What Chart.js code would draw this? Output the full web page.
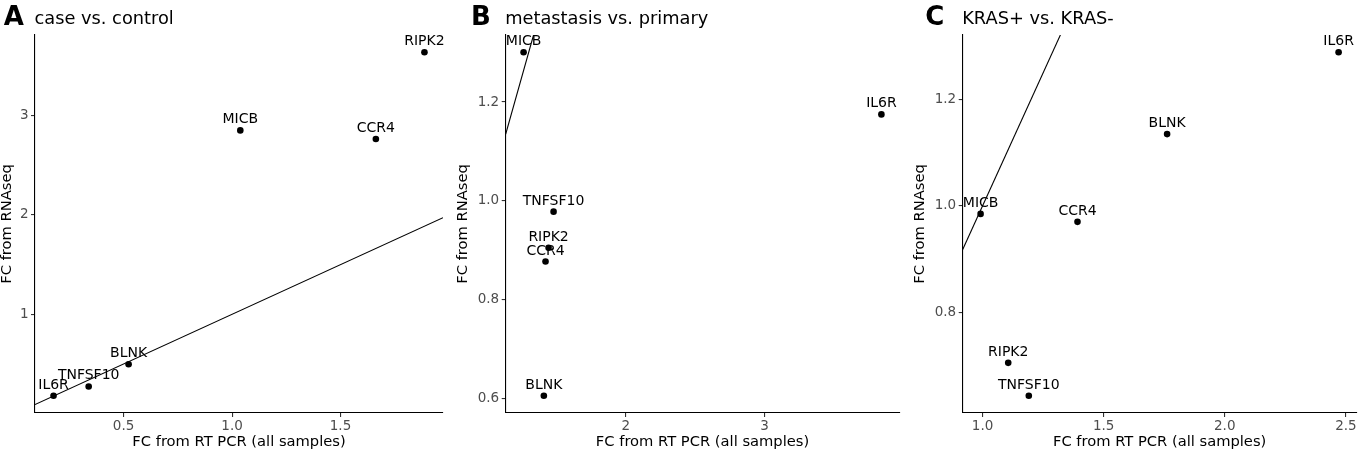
<!DOCTYPE html>
<html>
<head>
<meta charset="utf-8">
<script src="https://cdn.jsdelivr.net/npm/chart.js@4.4.1/dist/chart.umd.min.js"></script>
<style>
html,body{margin:0;padding:0;background:#fff;width:1358px;height:452px;overflow:hidden;}
canvas.p{position:absolute;top:0;}
</style>
</head>
<body>
<canvas id="cA" class="p" style="left:0px"></canvas>
<canvas id="cB" class="p" style="left:453px"></canvas>
<canvas id="cC" class="p" style="left:905px"></canvas>
<script>
// ---------- data ----------
const tags = ['A', 'B', 'C'];
const titles = ['case vs. control', 'metastasis vs. primary', 'KRAS+ vs. KRAS-'];
const xAxisTitle = 'FC from RT PCR (all samples)';
const yAxisTitle = 'FC from RNAseq';

// Panel A: case vs. control
const genesA = ['RIPK2', 'MICB', 'CCR4', 'BLNK', 'TNFSF10', 'IL6R'];
const pcrA   = [1.887, 1.038, 1.663, 0.523, 0.339, 0.177];
const rnaA   = [3.637, 2.850, 2.764, 0.497, 0.274, 0.180];
const xTicksA = [0.5, 1.0, 1.5];
const xTickLabelsA = ['0.5', '1.0', '1.5'];
const yTicksA = [1, 2, 3];
const yTickLabelsA = ['1', '2', '3'];

// Panel B: metastasis vs. primary
const genesB = ['MICB', 'IL6R', 'TNFSF10', 'RIPK2', 'CCR4', 'BLNK'];
const pcrB   = [1.264, 3.842, 1.480, 1.444, 1.422, 1.410];
const rnaB   = [1.301, 1.175, 0.978, 0.905, 0.877, 0.605];
const xTicksB = [2, 3];
const xTickLabelsB = ['2', '3'];
const yTicksB = [0.6, 0.8, 1.0, 1.2];
const yTickLabelsB = ['0.6', '0.8', '1.0', '1.2'];

// Panel C: KRAS+ vs. KRAS-
const genesC = ['IL6R', 'BLNK', 'MICB', 'CCR4', 'RIPK2', 'TNFSF10'];
const pcrC   = [2.470, 1.762, 0.992, 1.392, 1.106, 1.191];
const rnaC   = [1.289, 1.135, 0.985, 0.970, 0.705, 0.643];
const xTicksC = [1.0, 1.5, 2.0, 2.5];
const xTickLabelsC = ['1.0', '1.5', '2.0', '2.5'];
const yTicksC = [0.8, 1.0, 1.2];
const yTickLabelsC = ['0.8', '1.0', '1.2'];

// ---------- rendering ----------
const FONT = "'DejaVu Sans', 'Liberation Sans', sans-serif";

function expandRange(vals) {
  const mn = Math.min(...vals), mx = Math.max(...vals);
  const d = (mx - mn) * 0.05;
  return [mn - d, mx + d];
}

const decoPlugin = {
  id: 'deco',
  afterDatasetsDraw(chart, args, opts) {
    const ctx = chart.ctx;
    const meta = chart.getDatasetMeta(0);
    ctx.save();
    ctx.font = '14px ' + FONT;
    ctx.fillStyle = '#000';
    ctx.textAlign = 'center';
    ctx.textBaseline = 'alphabetic';
    meta.data.forEach((pt, i) => {
      ctx.fillText(opts.labels[i], pt.x, pt.y - 7);
    });
    ctx.restore();
  },
  afterDraw(chart, args, opts) {
    const ctx = chart.ctx;
    ctx.save();
    ctx.fillStyle = '#000';
    ctx.textAlign = 'left';
    ctx.textBaseline = 'alphabetic';
    ctx.font = 'bold 26px ' + FONT;
    ctx.fillText(opts.tag, opts.tagX, 25);
    ctx.font = '17.8px ' + FONT;
    ctx.fillText(opts.title, chart.chartArea.left - 0.5, 23.5);
    ctx.restore();
  }
};

function zeroPad(s) {
  s.paddingLeft = 0; s.paddingRight = 0; s.paddingTop = 0; s.paddingBottom = 0;
}

function makePanel(id, p) {
  const canvas = document.getElementById(id);
  canvas.width = p.w; canvas.height = 452;
  canvas.style.width = p.w + 'px'; canvas.style.height = '452px';
  const [xmin, xmax] = expandRange(p.x);
  const [ymin, ymax] = expandRange(p.y);
  const pts = p.x.map((v, i) => ({ x: v, y: p.y[i] }));
  const gridOpts = {
    display: true, drawOnChartArea: false, drawTicks: true,
    tickLength: 4, color: '#333', tickColor: '#333', lineWidth: 1.1
  };
  new Chart(canvas, {
    type: 'scatter',
    data: {
      datasets: [
        { data: pts, backgroundColor: '#000', borderWidth: 0, pointRadius: 3.3, pointHoverRadius: 3.3 },
        { type: 'line', data: [{ x: xmin, y: xmin }, { x: xmax, y: xmax }],
          borderColor: '#000', borderWidth: 1.1, pointRadius: 0, fill: false, tension: 0 }
      ]
    },
    plugins: [decoPlugin],
    options: {
      responsive: false, animation: false, events: [],
      layout: { autoPadding: false, padding: { left: 0, top: 35, right: p.padR, bottom: 0 } },
      plugins: {
        legend: { display: false }, tooltip: { enabled: false },
        deco: { tag: p.tag, tagX: p.tagX, title: p.title, labels: p.labels }
      },
      scales: {
        x: {
          type: 'linear', position: 'bottom', min: xmin, max: xmax,
          afterBuildTicks: s => { s.ticks = p.xt.map(v => ({ value: v })); },
          afterFit: s => { s.height = 39; zeroPad(s); },
          ticks: { callback: (v, i) => p.xtl[i], font: { family: FONT, size: 13.5 }, color: '#4d4d4d', padding: 1.6, maxRotation: 0, autoSkip: false },
          grid: gridOpts,
          border: { display: true, color: '#000', width: 1.1 },
          title: { display: true, text: xAxisTitle, font: { family: FONT, size: 14.7 }, color: '#000', padding: { top: 0, bottom: 0.9 } }
        },
        y: {
          type: 'linear', position: 'left', min: ymin, max: ymax,
          afterBuildTicks: s => { s.ticks = p.yt.map(v => ({ value: v })); },
          afterFit: s => { s.width = p.L; zeroPad(s); },
          ticks: { callback: (v, i) => p.ytl[i], font: { family: FONT, size: 13.5 }, color: '#4d4d4d', padding: 2.5, autoSkip: false },
          grid: gridOpts,
          border: { display: true, color: '#000', width: 1.1 },
          title: { display: true, text: yAxisTitle, font: { family: FONT, size: 14.7 }, color: '#000', padding: { top: p.yTitlePad, bottom: 0 } }
        }
      }
    }
  });
}

makePanel('cA', { w: 453, L: 35, padR: 10, tag: tags[0], tagX: 3.7, title: titles[0], yTitlePad: -1.2,
  x: pcrA, y: rnaA, labels: genesA, xt: xTicksA, xtl: xTickLabelsA, yt: yTicksA, ytl: yTickLabelsA });
makePanel('cB', { w: 452, L: 52.7, padR: 5.7, tag: tags[1], tagX: 18, title: titles[1], yTitlePad: 1.8,
  x: pcrB, y: rnaB, labels: genesB, xt: xTicksB, xtl: xTickLabelsB, yt: yTicksB, ytl: yTickLabelsB });
makePanel('cC', { w: 453, L: 57.7, padR: 1.5, tag: tags[2], tagX: 20.3, title: titles[2], yTitlePad: 6.8,
  x: pcrC, y: rnaC, labels: genesC, xt: xTicksC, xtl: xTickLabelsC, yt: yTicksC, ytl: yTickLabelsC });
</script>
</body>
</html>
